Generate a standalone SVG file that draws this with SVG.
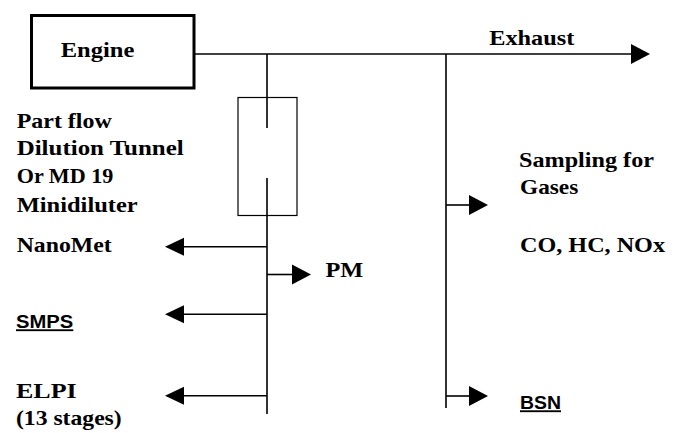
<svg xmlns="http://www.w3.org/2000/svg" width="679" height="433" viewBox="0 0 679 433">
<style>
.ln{stroke:#000;stroke-width:1.6;fill:none}
</style>
<defs>
<marker id="ah" markerUnits="userSpaceOnUse" markerWidth="20" markerHeight="20" refX="0" refY="9" orient="auto" overflow="visible">
<path d="M0,0 L19,9 L0,18 z" fill="#000"/>
</marker>
<marker id="ahb" markerUnits="userSpaceOnUse" markerWidth="20" markerHeight="22" refX="0" refY="10" orient="auto" overflow="visible">
<path d="M0,0 L19,10 L0,20 z" fill="#000"/>
</marker>
</defs>
<rect width="679" height="433" fill="#fff"/>
<g font-family="Liberation Serif, serif" font-weight="bold" font-size="22" fill="#000" lengthAdjust="spacingAndGlyphs">
<g id="engine">
<rect x="31.5" y="15.5" width="162.5" height="72.5" fill="#fff" stroke="#000" stroke-width="3"/>
<text x="60.7" y="57.3" textLength="73.6" lengthAdjust="spacingAndGlyphs">Engine</text>
</g>
<g id="dilution">
<rect x="238" y="97.5" width="59" height="118" fill="none" stroke="#000" stroke-width="1.2"/>
<text x="16.7" y="127.7" textLength="95" lengthAdjust="spacingAndGlyphs">Part flow</text>
<text x="16.7" y="155.3" textLength="167" lengthAdjust="spacingAndGlyphs">Dilution Tunnel</text>
<text x="16.7" y="183.3" textLength="96.7" lengthAdjust="spacingAndGlyphs">Or MD 19</text>
<text x="16.7" y="211.7" textLength="121" lengthAdjust="spacingAndGlyphs">Minidiluter</text>
</g>
<g id="exhaust"><text x="489.3" y="45" textLength="85" lengthAdjust="spacingAndGlyphs">Exhaust</text></g>
<g id="gases">
<text x="519" y="166.7" textLength="135" lengthAdjust="spacingAndGlyphs">Sampling for</text>
<text x="520" y="194.3" textLength="58.3" lengthAdjust="spacingAndGlyphs">Gases</text>
<text x="520" y="251.7" textLength="145" lengthAdjust="spacingAndGlyphs">CO, HC, NOx</text>
</g>
<g id="nanomet"><text x="16.7" y="251.7" textLength="95" lengthAdjust="spacingAndGlyphs">NanoMet</text></g>
<g id="pm"><text x="325.5" y="276.7" textLength="37.8" lengthAdjust="spacingAndGlyphs">PM</text></g>
<g id="elpi">
<text x="16" y="398.3" textLength="60.7" lengthAdjust="spacingAndGlyphs">ELPI</text>
<text x="16" y="425" textLength="105.7" lengthAdjust="spacingAndGlyphs">(13 stages)</text>
</g>
</g>
<g font-family="Liberation Sans, Arial, sans-serif" font-weight="bold" font-size="18.5" fill="#000" text-decoration="underline">
<g id="smps"><text x="16" y="328.3" textLength="57.3" lengthAdjust="spacingAndGlyphs">SMPS</text></g>
<g id="bsn"><text x="520" y="409.3" textLength="41" lengthAdjust="spacingAndGlyphs">BSN</text></g>
</g>
<g id="connectors">
<path class="ln" d="M195,54 H631" stroke-width="2" marker-end="url(#ahb)"/>
<path class="ln" d="M267,54 V128 M267,178 V414"/>
<path class="ln" d="M446,54 V408"/>
<path class="ln" d="M446,205 H469" marker-end="url(#ahb)"/>
<path class="ln" d="M446,396 H469" marker-end="url(#ahb)"/>
<path class="ln" d="M267,274.5 H292" marker-end="url(#ahb)"/>
<path class="ln" d="M267,246.7 H184" marker-end="url(#ah)"/>
<path class="ln" d="M267,314.3 H184" marker-end="url(#ah)"/>
<path class="ln" d="M267,395.7 H184" stroke-width="2" marker-end="url(#ah)"/>
</g>
</svg>
